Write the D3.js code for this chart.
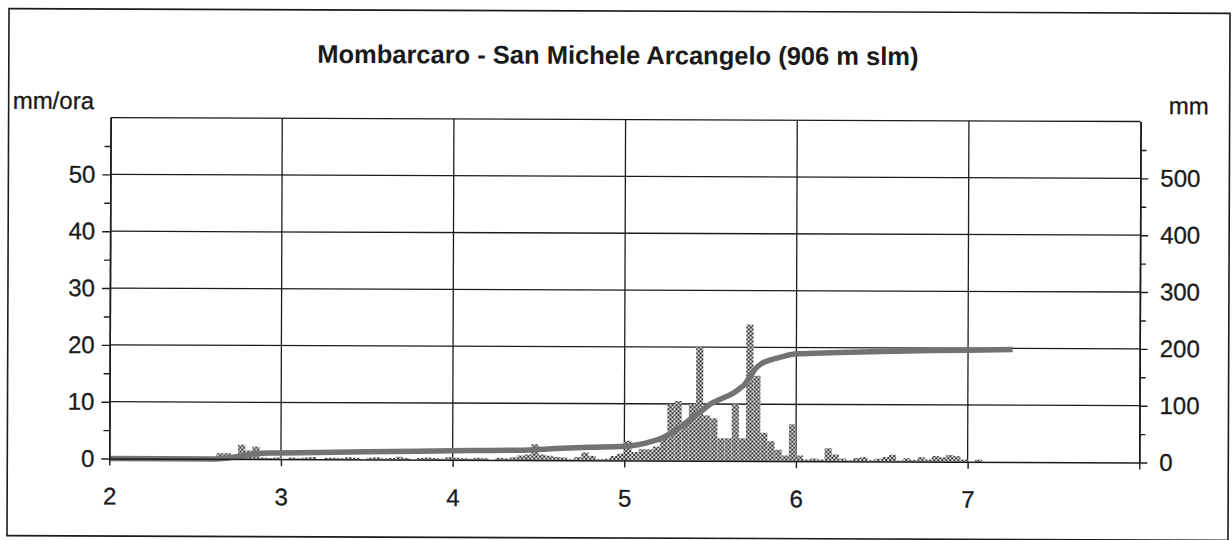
<!DOCTYPE html>
<html>
<head>
<meta charset="utf-8">
<script src="https://cdn.jsdelivr.net/npm/d3@7/dist/d3.min.js"></script>
<style>
  html, body { margin: 0; padding: 0; background: #ffffff; }
  svg { display: block; }
  text { font-family: "Liberation Sans", Arial, Helvetica, sans-serif; fill: #1a1a1a; }
</style>
</head>
<body>
<svg id="chart" width="1232" height="540"></svg>
<script>
// ---------------- DATA ----------------
const titleText = "Mombarcaro - San Michele Arcangelo (906 m slm)";
const leftAxisLabel = "mm/ora";
const rightAxisLabel = "mm";

// x axis (days)
const dayTicks = [2, 3, 4, 5, 6, 7, 8];
const dayTickLabels = ["2", "3", "4", "5", "6", "7", ""];

// left axis (hourly intensity, mm/ora)
const leftTicks = [0, 10, 20, 30, 40, 50];
const leftMinorTicks = [5, 15, 25, 35, 45, 55];
// right axis (cumulative, mm)
const rightTicks = [0, 100, 200, 300, 400, 500];
const rightMinorTicks = [50, 150, 250, 350, 450, 550];

// hourly rainfall (mm/ora), one value per hour starting at day 2.0
const rainStartDay = 2;
const hourlyRain = [
  0, 0, 0, 0, 0, 0, 0, 0, 0, 0, 0, 0, 0, 0, 0,          // h0-h14
  1, 1, 0.4, 2.5, 1.5, 2.2, 0.3,                         // h15-h21
  0.2, 0.3, 0, 0.3, 0.2, 0.3, 0.4, 0, 0.3, 0.3,          // h22-h31
  0.2, 0.4, 0.3, 0, 0.3, 0.4, 0.2, 0.3, 0.5, 0.3,        // h32-h41
  0, 0.3, 0.4, 0.3, 0.2, 0.5, 0.4, 0.3, 0.2, 0.4,        // h42-h51
  0.3, 0, 0.4, 0.3, 0.5, 0.8, 1, 2.8, 1, 0.8,            // h52-h61
  0.6, 0.5, 0.2, 0.6, 1.4, 0.8, 0.2, 0.3, 0.8, 1.2,      // h62-h71
  3.5, 1.5, 2, 2, 2.5, 4, 10, 10.5, 7, 10,               // h72-h81
  20, 8, 7.5, 4, 4, 10, 4, 24, 15, 5,                    // h82-h91
  3.5, 2, 1, 6.5, 1, 0.3, 0.5, 0.3, 2.3, 1.2,            // h92-h101
  0.5, 0.2, 0.6, 0.8, 0.2, 0.5, 0.8, 1.2, 0.2, 0.6,      // h102-h111
  0.3, 0.8, 0.4, 1, 0.8, 1.2, 1, 0.4, 0, 0.4,            // h112-h121
  0, 0, 0, 0                                             // h122-h125
];

// cumulative rainfall (mm)
const cumDays = [2.00, 2.62, 2.68, 2.74, 2.80, 2.86, 2.95, 3.20, 3.50, 3.80,
                 4.10, 4.40, 4.50, 4.60, 4.80, 5.00, 5.08, 5.16, 5.22, 5.27,
                 5.33, 5.39, 5.45, 5.50, 5.56, 5.62, 5.66, 5.70, 5.73, 5.76,
                 5.80, 5.85, 5.92, 6.00, 6.10, 6.25, 6.50, 6.80, 7.00, 7.26];
const cumRain = [0, 0, 1.5, 4, 7, 10, 11, 12, 13.5, 15,
                 16.5, 17.5, 19, 20.5, 23, 25, 28, 34, 40, 48,
                 60, 75, 88, 100, 109, 117, 125, 135, 148, 162,
                 172, 178, 184, 189, 190, 191.5, 193.5, 195.5, 196.5, 198];

// ---------------- LAYOUT ----------------
const W = 1232, H = 540;
const plot = { left: 110, right: 1140, top: 119.5, bottom: 460.5 };
const fontTick = 24, fontLabel = 24, fontTitle = 25.5;
const ink = "#1c1c1c";

const svg = d3.select("#chart");
const defs = svg.append("defs");
const pat = defs.append("pattern")
  .attr("id", "dots").attr("patternUnits", "userSpaceOnUse")
  .attr("width", 4).attr("height", 4);
pat.append("rect").attr("width", 4).attr("height", 4).attr("fill", "#e0e0e0");
pat.append("rect").attr("x", 0).attr("y", 0).attr("width", 2).attr("height", 2).attr("fill", "#333");
pat.append("rect").attr("x", 2).attr("y", 2).attr("width", 2).attr("height", 2).attr("fill", "#333");

const root = svg.append("g").attr("transform", "rotate(0.22 616 275)");

// outer frame
root.append("rect")
  .attr("x", 8).attr("y", 11).attr("width", 1221).attr("height", 527)
  .attr("fill", "none").attr("stroke", ink).attr("stroke-width", 1.6);

const x = d3.scaleLinear().domain([2, 8]).range([plot.left, plot.right]);
const yL = d3.scaleLinear().domain([0, 60]).range([plot.bottom, plot.top]);
const yR = d3.scaleLinear().domain([0, 600]).range([plot.bottom, plot.top]);

// grid
const grid = root.append("g").attr("stroke", ink).attr("stroke-width", 1.3);
grid.selectAll("line.h").data(leftTicks.filter(d => d > 0)).join("line")
  .attr("x1", plot.left).attr("x2", plot.right)
  .attr("y1", d => yL(d)).attr("y2", d => yL(d));
grid.selectAll("line.v").data(dayTicks.filter(d => d > 2 && d < 8)).join("line")
  .attr("y1", plot.top).attr("y2", plot.bottom)
  .attr("x1", d => x(d)).attr("x2", d => x(d));
// top border of plot
grid.append("line").attr("x1", plot.left).attr("x2", plot.right)
  .attr("y1", plot.top).attr("y2", plot.top);

// bars
const stepDays = 1 / 24;
root.append("g").selectAll("rect").data(hourlyRain).join("rect")
  .attr("x", (d, i) => x(rainStartDay + i * stepDays))
  .attr("width", x(rainStartDay + stepDays) - x(rainStartDay))
  .attr("y", d => yL(d))
  .attr("height", d => yL(0) - yL(d))
  .attr("fill", "url(#dots)");

// cumulative line
const cumData = cumDays.map((d, i) => [d, cumRain[i]]);
root.append("path").datum(cumData)
  .attr("fill", "none").attr("stroke", "#737373").attr("stroke-width", 5.5)
  .attr("stroke-linejoin", "round").attr("stroke-linecap", "butt")
  .attr("d", d3.line().x(d => x(d[0])).y(d => yR(d[1])).curve(d3.curveMonotoneX));

// axes
function styleAxis(g) {
  g.selectAll("path.domain").attr("stroke", ink).attr("stroke-width", 1.5);
  g.selectAll(".tick line").attr("stroke", ink).attr("stroke-width", 1.4);
  g.selectAll("text").attr("font-size", fontTick).attr("fill", ink)
    .attr("stroke", ink).attr("stroke-width", 0.3)
    .style("font-family", '"Liberation Sans", Arial, sans-serif');
}
const gL = root.append("g").attr("transform", `translate(${plot.left},0)`)
  .call(d3.axisLeft(yL).tickValues(leftTicks).tickSize(8).tickSizeOuter(0).tickPadding(7).tickFormat(d3.format("d")));
styleAxis(gL);
const gLm = root.append("g").attr("transform", `translate(${plot.left},0)`)
  .call(d3.axisLeft(yL).tickValues(leftMinorTicks).tickSize(6).tickSizeOuter(0).tickFormat(""));
styleAxis(gLm);

const gR = root.append("g").attr("transform", `translate(${plot.right},0)`)
  .call(d3.axisRight(yR).tickValues(rightTicks).tickSize(8).tickSizeOuter(0).tickPadding(12).tickFormat(d3.format("d")));
styleAxis(gR);
const gRm = root.append("g").attr("transform", `translate(${plot.right},0)`)
  .call(d3.axisRight(yR).tickValues(rightMinorTicks).tickSize(6).tickSizeOuter(0).tickFormat(""));
styleAxis(gRm);

const gB = root.append("g").attr("transform", `translate(0,${plot.bottom})`)
  .call(d3.axisBottom(x).tickValues(dayTicks).tickSize(7).tickSizeOuter(0).tickPadding(22)
    .tickFormat((d, i) => dayTickLabels[i]));
styleAxis(gB);

// titles
root.append("text").attr("x", 617).attr("y", 64).attr("text-anchor", "middle")
  .attr("font-size", fontTitle).attr("font-weight", "bold").text(titleText);
root.append("text").attr("x", 12).attr("y", 111).attr("font-size", fontLabel)
  .attr("stroke", ink).attr("stroke-width", 0.3).text(leftAxisLabel);
root.append("text").attr("x", 1208).attr("y", 112).attr("text-anchor", "end")
  .attr("font-size", fontLabel).attr("stroke", ink).attr("stroke-width", 0.3).text(rightAxisLabel);
</script>
</body>
</html>
